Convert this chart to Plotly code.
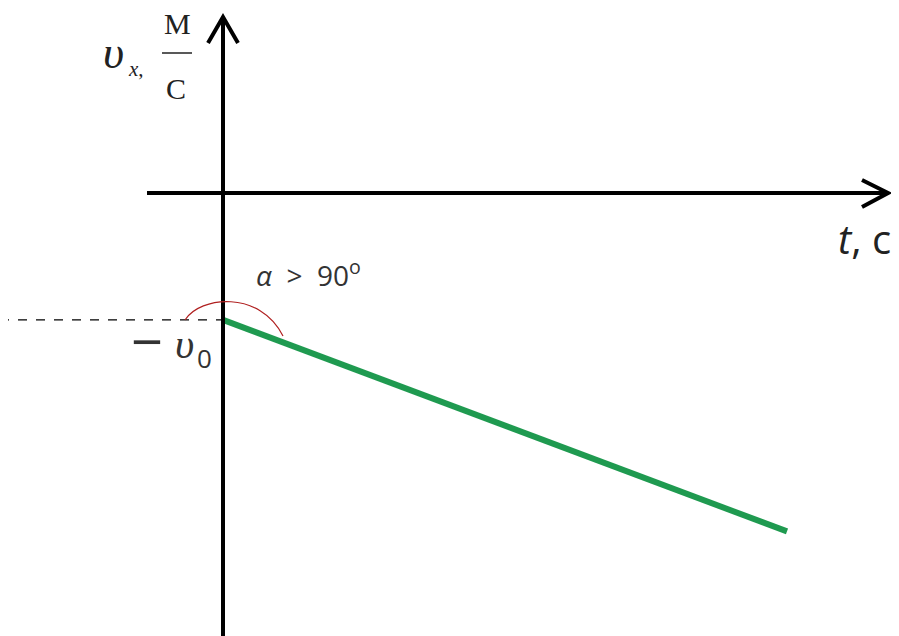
import plotly.graph_objects as go

# data: velocity projection vs time (arbitrary units)
t = [0, 10]
v = [-3, -8]

# pixel mapping of the drawing (origin of the axes and units)
# the page body has an 8px margin, so the figure starts at (8, 8)
PAD = 8
OX, OY = 223, 193
SX, SY = 56.4, 42.3
W, H = 899 - PAD, 636 - PAD


def X(px):
    return (px - OX) / SX


def Y(py):
    return (OY - py) / SY


green = '#1f9a50'
serif = 'Liberation Serif'
sans = 'Open Sans'

fig = go.Figure()

fig.add_trace(go.Scatter(
    x=t, y=v, mode='lines',
    line=dict(color=green, width=6),
    hoverinfo='skip', showlegend=False,
))

shapes = []
# axes
shapes.append(dict(type='line', x0=X(147), y0=Y(193), x1=X(886), y1=Y(193),
                   line=dict(color='black', width=4)))
shapes.append(dict(type='line', x0=X(223), y0=Y(19), x1=X(223), y1=Y(650),
                   line=dict(color='black', width=4)))
# arrow heads (open chevrons)
shapes.append(dict(type='path',
                   path=f'M {X(862)},{Y(180)} L {X(888)},{Y(193)} L {X(862)},{Y(207)}',
                   line=dict(color='black', width=4)))
shapes.append(dict(type='path',
                   path=f'M {X(208)},{Y(43)} L {X(223)},{Y(17)} L {X(238)},{Y(43)}',
                   line=dict(color='black', width=4)))
# dashed level of -v0
shapes.append(dict(type='line', x0=X(0), y0=v[0], x1=X(223), y1=v[0],
                   line=dict(color='black', width=1.4, dash='dash')))
# angle arc
shapes.append(dict(type='path',
                   path=f'M {X(185)},{Y(320)} C {X(200)},{Y(296)} {X(260)},{Y(290)} {X(283)},{Y(336)}',
                   line=dict(color='#b02020', width=1.2)))
# fraction bar of the unit
shapes.append(dict(type='line', x0=X(162), y0=Y(53), x1=X(192), y1=Y(53),
                   line=dict(color='#222', width=1.5)))


def label(px, py, text, size, family=serif, color='#222'):
    return dict(x=X(px), y=Y(py), xref='x', yref='y', text=text, showarrow=False,
                xanchor='center', yanchor='middle',
                font=dict(size=size, family=family, color=color))


annotations = [
    label(113, 52, '<i>υ</i>', 46),
    label(136, 69, '<i>x</i>,', 21),
    label(177, 23, 'М', 30),
    label(176, 88, 'С', 30),
    label(864, 238, '<i>t</i>, c', 40, family=sans),
    label(308, 273, '<i>α</i>&nbsp; &gt; &nbsp;90<sup>o</sup>', 28, family=sans, color='#333'),
    label(147, 340, '−', 56, family=sans, color='#333'),
    label(184, 344, '<i>υ</i>', 42, color='#333'),
    label(204, 358, '0', 26, family=sans, color='#333'),
]

fig.update_layout(
    width=W, height=H,
    margin=dict(l=0, r=0, t=0, b=0),
    paper_bgcolor='white', plot_bgcolor='white',
    xaxis=dict(range=[X(PAD), X(PAD + W)], visible=False, fixedrange=True),
    yaxis=dict(range=[Y(PAD + H), Y(PAD)], visible=False, fixedrange=True),
    shapes=shapes,
    annotations=annotations,
    showlegend=False,
)

fig.write_html("out.html")
